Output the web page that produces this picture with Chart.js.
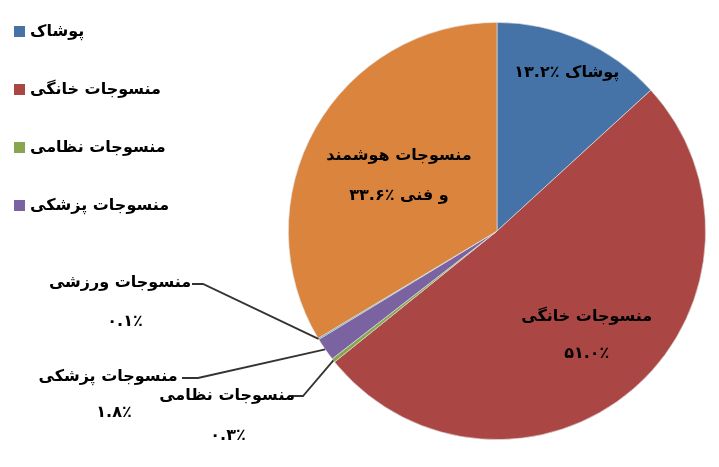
<!DOCTYPE html>
<html lang="fa">
<head>
<meta charset="utf-8">
<script src="https://cdn.jsdelivr.net/npm/chart.js@4.4.1/dist/chart.umd.min.js"></script>
<style>
    html, body { margin: 0; padding: 0; background: #fff; }
    canvas { display: block; }
</style>
</head>
<body>
<canvas id="shareChart" width="719" height="467"></canvas>
<script>
// ── data ──
const categories = ['پوشاک', 'منسوجات خانگی', 'منسوجات نظامی', 'منسوجات پزشکی', 'منسوجات ورزشی', 'منسوجات هوشمند و فنی'];
const shares     = [13.2, 51.0, 0.3, 1.8, 0.1, 33.6];
const legendCount = 4;   // legend in the picture is cut after 4 entries

// ── style ──
const sliceColors = ['#4572A7', '#AA4643', '#89A54E', '#7B62A0', '#3D96AE', '#DB843D'];
const FONT = 'bold 16px "DejaVu Sans", sans-serif';

// ── Persian digits ──
function toFa(str) {
    return str.replace(/[0-9]/g, d => '۰۱۲۳۴۵۶۷۸۹'[d]);
}
// standalone value (percent sign shows on the right)
function pct(i) {
    return toFa(shares[i].toFixed(1)) + '٪';
}
// value after a Persian word (bidi puts the sign on the right if it comes first)
function pctAfterWord(i) {
    return '٪' + toFa(shares[i].toFixed(1));
}

// label text per slice (lines)
const labelLines = [
    [categories[0] + ' ' + pctAfterWord(0)],
    [categories[1], pct(1)],
    [categories[2], pct(2)],
    [categories[3], pct(3)],
    [categories[4], pct(4)],
    ['منسوجات هوشمند', 'و فنی ' + pctAfterWord(5)]
];

// inside labels: fraction of radius along mid angle
const insideLayout = {
    0: { k: 0.83, gap: 0 },
    1: { k: 0.66, gap: 37 },
    5: { k: 0.54, gap: 40 }
};
// outside labels with leader lines
const outsideLayout = {
    4: { name: [120, 283], value: [125, 322], line: [[192, 284], [203, 284]] },
    3: { name: [108, 377], value: [114, 413], line: [[182, 378], [198, 378]] },
    2: { name: [227, 396], value: [228, 436], line: [[292, 396], [303, 396]] }
};

const labelPlugin = {
    id: 'pieLabels',
    afterDatasetsDraw(chart) {
        const ctx = chart.ctx;
        const arcs = chart.getDatasetMeta(0).data;
        ctx.save();
        ctx.direction = 'rtl';
        ctx.font = FONT;
        ctx.fillStyle = '#000';
        ctx.textAlign = 'center';
        ctx.textBaseline = 'middle';

        // ── inside ──
        Object.keys(insideLayout).forEach(key => {
            const i = +key;
            const arc = arcs[i];
            const lay = insideLayout[i];
            const mid = (arc.startAngle + arc.endAngle) / 2;
            const cx = arc.x + Math.cos(mid) * arc.outerRadius * lay.k;
            const cy = arc.y + Math.sin(mid) * arc.outerRadius * lay.k;
            const lines = labelLines[i];
            lines.forEach((t, j) => {
                ctx.fillText(t, cx, cy + (j - (lines.length - 1) / 2) * lay.gap);
            });
        });

        // ── outside + leader lines ──
        ctx.strokeStyle = '#333';
        ctx.lineWidth = 1.8;
        Object.keys(outsideLayout).forEach(key => {
            const i = +key;
            const arc = arcs[i];
            const lay = outsideLayout[i];
            const mid = (arc.startAngle + arc.endAngle) / 2;
            const ex = arc.x + Math.cos(mid) * arc.outerRadius;
            const ey = arc.y + Math.sin(mid) * arc.outerRadius;
            ctx.beginPath();
            ctx.moveTo(lay.line[0][0], lay.line[0][1]);
            ctx.lineTo(lay.line[1][0], lay.line[1][1]);
            ctx.lineTo(ex, ey);
            ctx.stroke();
            ctx.fillText(labelLines[i][0], lay.name[0], lay.name[1]);
            ctx.fillText(labelLines[i][1], lay.value[0], lay.value[1]);
        });
        ctx.restore();
    },
    afterDraw(chart) {
        // ── legend (left, first 4 only) ──
        const ctx = chart.ctx;
        ctx.save();
        ctx.direction = 'rtl';
        ctx.font = FONT;
        ctx.textAlign = 'left';
        ctx.textBaseline = 'middle';
        for (let i = 0; i < legendCount; i++) {
            const y = 32 + i * 58;
            ctx.fillStyle = sliceColors[i];
            ctx.fillRect(14, y - 6, 11, 11);
            ctx.fillStyle = '#000';
            ctx.fillText(categories[i], 30, y);
        }
        ctx.restore();
    }
};

const ctx = document.getElementById('shareChart').getContext('2d');
new Chart(ctx, {
    type: 'pie',
    data: {
        labels: categories,
        datasets: [{
            data: shares,
            backgroundColor: sliceColors,
            borderColor: 'rgba(225, 225, 225, 0.8)',
            borderWidth: 0.8
        }]
    },
    options: {
        responsive: false,
        animation: false,
        devicePixelRatio: 1,
        layout: { padding: { left: 288, right: 13, top: 22, bottom: 27 } },
        plugins: {
            legend: { display: false },
            tooltip: { enabled: false }
        }
    },
    plugins: [labelPlugin]
});
</script>
</body>
</html>
